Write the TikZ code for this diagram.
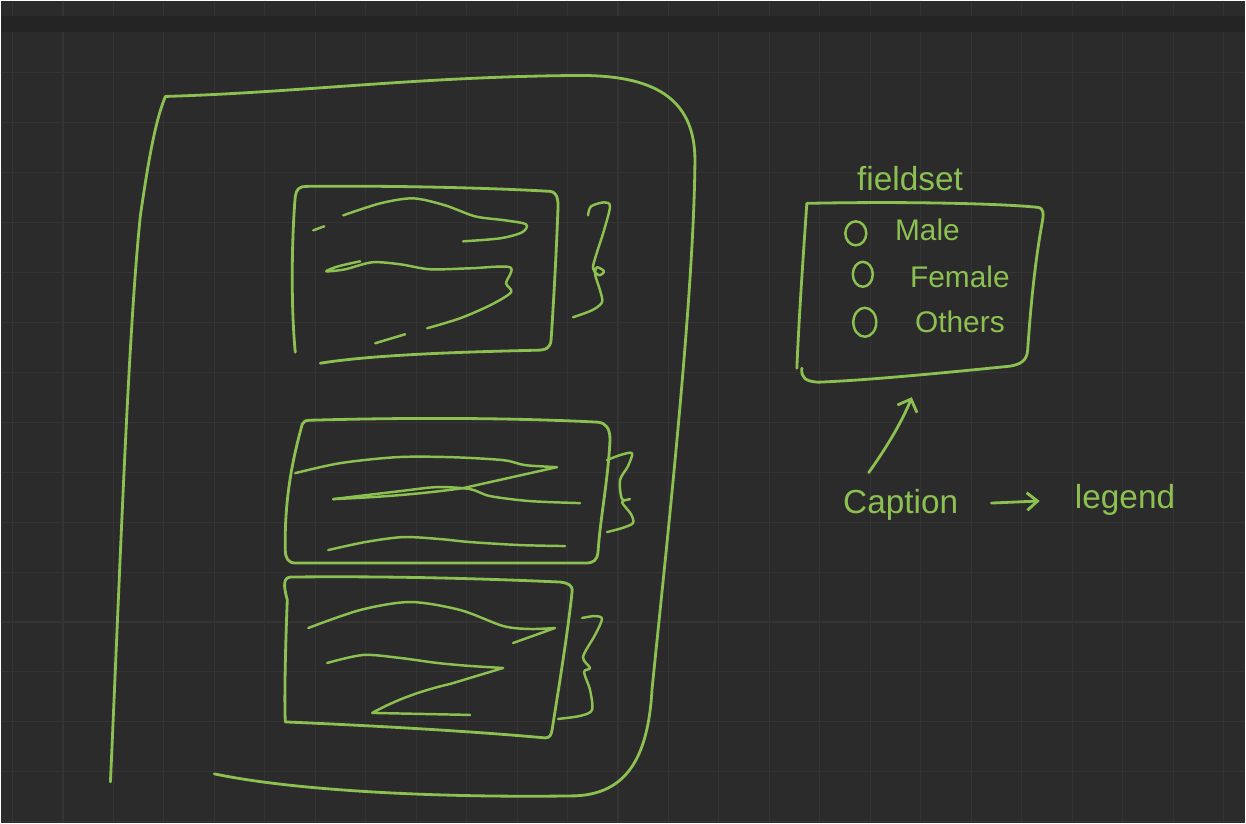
\documentclass[tikz,border=0pt]{standalone}
\usepackage{fontspec}
\setmainfont{Liberation Sans}
\usepackage{tikz}
\usetikzlibrary{arrows.meta}
\definecolor{boardbg}{HTML}{2B2B2B}
\definecolor{boardband}{HTML}{242424}
\definecolor{gridline}{HTML}{343434}
\definecolor{pengreen}{HTML}{8CC152}

\tikzset{
  pen/.style={draw=pengreen, line width=1.6pt, line cap=round, line join=round},
  scribble/.style={pen, line width=1.4pt},
  hand/.style={text=pengreen, inner sep=0pt, anchor=base west, font=\fontsize{19}{22}\selectfont},
  option/.style={hand, font=\fontsize{17}{20}\selectfont},
  radio/.style={pen, line width=1.4pt},
}

\begin{document}
\begin{tikzpicture}[x=0.02cm, y=-0.02cm]
  % board
  \fill[boardbg] (0,0) rectangle (1246,823);
  \fill[boardband] (0,15) rectangle (1246,32);
  \foreach \gx in {0,...,24} {
    \draw[gridline, line width=0.6pt] ({12+50.5*\gx},32) -- ({12+50.5*\gx},823);
    \draw[gridline, line width=0.6pt] ({12+50.5*\gx},0) -- ({12+50.5*\gx},15);
  }
  \foreach \gy in {72,122,...,822}
    \draw[gridline, line width=0.6pt] (0,\gy) -- (1246,\gy);
  \useasboundingbox (0,0) rectangle (1246,823);

  % page frame
  \draw[pen] (110,782) .. controls (120,560) and (128,330) .. (140,215)
    .. controls (148,160) and (155,120) .. (165,96)
    .. controls (300,92) and (420,76) .. (580,75)
    .. controls (650,75) and (695,95) .. (695,160)
    .. controls (694,300) and (665,560) .. (652,690)
    .. controls (648,760) and (625,794) .. (575,796)
    .. controls (450,798) and (300,792) .. (214,774);

  % first block
  \draw[pen] (295,352) .. controls (290,300) and (292,230) .. (295,196)
    .. controls (296,189) and (299,186) .. (306,186)
    .. controls (400,185) and (500,188) .. (550,191)
    .. controls (557,192) and (558,198) .. (558,206)
    .. controls (556,260) and (553,310) .. (551,340)
    .. controls (550,348) and (546,350) .. (536,350)
    .. controls (450,352) and (370,355) .. (320,363);
  \draw[scribble] (313,230) -- (324,226);
  \draw[scribble] plot[smooth] coordinates {(343,215) (380,203) (413,198) (445,205) (475,216) (505,220) (526,224) (522,232) (500,238) (463,241)};
  \draw[scribble] plot[smooth] coordinates {(360,261) (338,266) (326,271) (345,269) (372,262) (400,264) (430,269) (470,268) (510,267) (506,283) (511,292) (490,305) (460,318) (427,328)};
  \draw[scribble] (375,343) -- (405,334);
  \draw[scribble] plot[smooth] coordinates {(588,215) (591,206) (604,202) (610,206) (604,230) (596,255) (593,268) (599,275) (604,271) (597,267) (595,274) (600,290) (602,302) (592,310) (573,317)};

  % second block
  \draw[pen] (302,424) .. controls (303,421) and (305,420) .. (312,420)
    .. controls (420,417) and (520,418) .. (598,422)
    .. controls (606,423) and (610,428) .. (610,440)
    .. controls (608,480) and (600,520) .. (598,552)
    .. controls (597,560) and (594,563) .. (585,563) -- (295,563)
    .. controls (288,563) and (285,558) .. (285,550)
    .. controls (284,500) and (292,460) .. cycle;
  \draw[scribble] plot[smooth] coordinates {(295,473) (340,463) (397,457) (450,457) (503,460) (525,465) (557,467)} -- (463,488) .. controls (420,494) and (380,497) .. (333,499);
  \draw[scribble] plot[smooth] coordinates {(333,499) (400,491) (437,487) (470,489) (490,496) (530,501) (580,503)};
  \draw[scribble] plot[smooth] coordinates {(328,550) (365,542) (403,537) (440,539) (470,542) (520,545) (565,546)};
  \draw[scribble] plot[smooth] coordinates {(607,460) (620,455) (632,453) (628,466) (620,480) (622,499) (630,499) (622,502) (631,514) (633,523) (622,528) (607,532)};

  % third block
  \draw[pen] (290,577) .. controls (283,578) and (283,585) .. (287,600)
    .. controls (285,650) and (284,700) .. (285,722)
    .. controls (380,726) and (480,732) .. (545,738)
    .. controls (550,738) and (551,735) .. (552,730)
    .. controls (560,680) and (568,630) .. (572,592)
    .. controls (573,585) and (568,583) .. (560,582)
    .. controls (470,578) and (380,576) .. (290,577);
  \draw[scribble] plot[smooth] coordinates {(308,628) (360,610) (410,602) (460,610) (503,626) (530,629) (555,628)} -- (513,643);
  \draw[scribble] plot[smooth] coordinates {(327,663) (363,655) (400,658) (437,663) (470,666) (503,668)} -- (450,684) .. controls (415,692) and (390,703) .. (372,713) -- (470,715);
  \draw[scribble] plot[smooth] coordinates {(582,618) (595,616) (602,619) (595,635) (583,657) (590,668) (584,672) (590,690) (592,710) (580,716) (558,719)};

  % fieldset box
  \node[hand] (fieldset) at (857,190) {fieldset};
  \draw[pen] (797,368) .. controls (799,320) and (803,260) .. (807,203)
    .. controls (900,201) and (1000,203) .. (1038,207)
    .. controls (1045,208) and (1044,214) .. (1042,225)
    .. controls (1034,270) and (1030,320) .. (1028,350)
    .. controls (1027,360) and (1022,364) .. (1010,366)
    .. controls (950,372) and (870,380) .. (818,382)
    .. controls (806,381) and (801,378) .. (802,368);
  \coordinate (boxfoot) at (912,397);

  \draw[radio] (856,233) ellipse [x radius=0.21cm, y radius=0.24cm];
  \draw[radio] (863,274) ellipse [x radius=0.2cm, y radius=0.25cm];
  \draw[radio] (865,322) ellipse [x radius=0.23cm, y radius=0.29cm];
  \node[option] (male) at (895,240) {Male};
  \node[option] (female) at (910,287) {Female};
  \node[option] (others) at (915,332) {Others};

  % caption -> legend
  \node[hand] (caption) at (843,513) {Caption};
  \node[hand] (legend) at (1075,508) {legend};
  \draw[pen, -{Straight Barb[length=6pt, width=10pt]}, shorten <=0.66cm, shorten >=0.7cm] (caption.east) -- (legend.west);
  \draw[pen, -{Straight Barb[length=6pt, width=12pt]}] ([xshift=-0.64cm, yshift=0.32cm]caption.north) .. controls (892,440) and (905,415) .. (boxfoot);
\end{tikzpicture}
\end{document}
